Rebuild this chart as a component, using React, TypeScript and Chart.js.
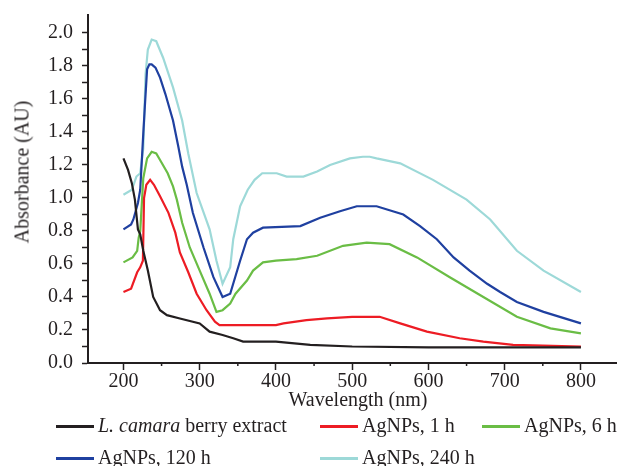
import React, { useEffect, useRef } from 'react';
import { Chart, registerables } from 'chart.js';
Chart.register(...registerables);

// ---- Data (wavelength in nm, absorbance in AU) ----
const extractWl = [200, 206, 211, 215, 219, 222, 226, 232, 239, 248, 257, 274, 300, 313, 330, 344, 357, 400, 445, 500, 600, 700, 800];
const extractAbs = [1.24, 1.17, 1.09, 0.99, 0.81, 0.78, 0.68, 0.56, 0.4, 0.32, 0.29, 0.27, 0.24, 0.19, 0.17, 0.15, 0.13, 0.13, 0.11, 0.1, 0.095, 0.095, 0.095];

const h1Wl = [200, 210, 218, 222, 225.5, 227, 230, 235, 240, 248, 259, 268, 274, 285, 296, 309, 320, 326, 350, 400, 410, 440, 467, 500, 536, 563, 598, 641, 672, 711, 750, 800];
const h1Abs = [0.43, 0.45, 0.55, 0.58, 0.62, 1.0, 1.08, 1.11, 1.08, 1.01, 0.91, 0.79, 0.67, 0.55, 0.42, 0.32, 0.25, 0.23, 0.23, 0.23, 0.24, 0.26, 0.27, 0.28, 0.28, 0.24, 0.19, 0.15, 0.13, 0.11, 0.105, 0.1];

const h6Wl = [200, 212, 218, 220, 222, 226, 231, 237, 243, 248, 258, 265, 270, 277, 287, 300, 313, 322, 330, 340, 347, 362, 370, 383, 400, 427, 454, 488, 519, 549, 585, 628, 672, 716, 760, 800];
const h6Abs = [0.61, 0.64, 0.68, 0.76, 0.8, 1.12, 1.24, 1.28, 1.27, 1.23, 1.15, 1.07, 0.99, 0.85, 0.7, 0.56, 0.42, 0.31, 0.32, 0.36, 0.42, 0.5, 0.56, 0.61, 0.62, 0.63, 0.65, 0.71, 0.73, 0.72, 0.64, 0.52, 0.4, 0.28, 0.21, 0.18];

const h120Wl = [200, 210, 213, 219, 222, 226, 228, 231, 234, 237, 242, 248, 255, 265, 272, 277, 283, 291, 305, 318, 330, 340, 353, 362, 370, 383, 432, 458, 484, 506, 532, 567, 589, 611, 633, 654, 677, 694, 716, 751, 800];
const h120Abs = [0.81, 0.84, 0.87, 0.97, 1.05, 1.39, 1.55, 1.78, 1.81, 1.81, 1.79, 1.73, 1.63, 1.47, 1.31, 1.19, 1.08, 0.91, 0.7, 0.52, 0.4, 0.42, 0.62, 0.75, 0.79, 0.82, 0.83, 0.88, 0.92, 0.95, 0.95, 0.9, 0.83, 0.75, 0.64, 0.56, 0.48, 0.43, 0.37, 0.31, 0.24];

const h240Wl = [200, 211, 217, 222, 226, 229, 232, 237, 243, 252, 265, 277, 285, 296, 313, 322, 330, 340, 344, 353, 363, 372, 382, 401, 414, 436, 454, 471, 497, 514, 523, 532, 563, 606, 650, 681, 716, 751, 800];
const h240Abs = [1.02, 1.05, 1.13, 1.15, 1.3, 1.75, 1.9, 1.96, 1.95, 1.85, 1.67, 1.47, 1.27, 1.03, 0.81, 0.62, 0.48, 0.58, 0.75, 0.95, 1.05, 1.11, 1.15, 1.15, 1.13, 1.13, 1.16, 1.2, 1.24, 1.25, 1.25, 1.24, 1.21, 1.11, 0.99, 0.87, 0.68, 0.56, 0.43];

const xMajorTicks = [200, 300, 400, 500, 600, 700, 800];
const xMinorTicks = [250, 350, 450, 550, 650, 750];
const yTicks = [0, 0.1, 0.2, 0.3, 0.4, 0.5, 0.6, 0.7, 0.8, 0.9, 1.0, 1.1, 1.2, 1.3, 1.4, 1.5, 1.6, 1.7, 1.8, 1.9, 2.0];
const yLabelled = [0, 0.2, 0.4, 0.6, 0.8, 1.0, 1.2, 1.4, 1.6, 1.8, 2.0];

const seriesNames = ['L. camara berry extract', 'AgNPs, 1 h', 'AgNPs, 6 h', 'AgNPs, 120 h', 'AgNPs, 240 h'];
const seriesColors = ['#231f20', '#ed1c24', '#6abd45', '#1f40a0', '#9dd9d8'];

const INK = '#231f20';
const FONT = '"Liberation Serif", "Times New Roman", Times, serif';

function pairs(xs: number[], ys: number[]) {
  return xs.map((x, i) => ({ x, y: ys[i] }));
}

const minorTickPlugin = {
  id: 'minorTicks',
  afterDraw(chart: any) {
    const ctx = chart.ctx;
    const xs = chart.scales.x;
    const yb = chart.chartArea.bottom;
    ctx.save();
    ctx.strokeStyle = INK;
    ctx.lineWidth = 1.5;
    xMinorTicks.forEach((v) => {
      const px = xs.getPixelForValue(v);
      ctx.beginPath();
      ctx.moveTo(px, yb);
      ctx.lineTo(px, yb + 3);
      ctx.stroke();
    });
    ctx.restore();
  },
};

export default function App() {
  const ref = useRef<HTMLCanvasElement | null>(null);

  useEffect(() => {
    document.body.style.margin = '0';
    if (!ref.current) return;
    const data = [
      pairs(extractWl, extractAbs),
      pairs(h1Wl, h1Abs),
      pairs(h6Wl, h6Abs),
      pairs(h120Wl, h120Abs),
      pairs(h240Wl, h240Abs),
    ];
    const chart = new Chart(ref.current, {
      type: 'line',
      data: {
        datasets: data.map((d, i) => ({
          label: seriesNames[i],
          data: d,
          borderColor: seriesColors[i],
          backgroundColor: seriesColors[i],
          borderWidth: 2.2,
          pointRadius: 0,
          tension: 0,
          fill: false,
        })),
      },
      options: {
        responsive: false,
        animation: false,
        layout: { padding: { top: 15, right: 3, left: 0, bottom: 0 } },
        plugins: { legend: { display: false }, tooltip: { enabled: false } },
        scales: {
          x: {
            type: 'linear',
            min: 153.5,
            max: 846,
            afterFit: (s: any) => {
              s.height = 103;
              s.paddingLeft = 0;
              s.paddingRight = 0;
            },
            afterBuildTicks: (s: any) => { s.ticks = xMajorTicks.map((v) => ({ value: v })); },
            grid: { display: true, drawOnChartArea: false, tickLength: 7, tickWidth: 1.5, tickColor: INK },
            border: { display: true, color: INK, width: 2 },
            ticks: {
              autoSkip: false,
              maxRotation: 0,
              padding: 0,
              color: INK,
              font: { family: FONT, size: 20 },
              callback: (v: any) => String(v),
            },
          },
          y: {
            type: 'linear',
            min: 0,
            max: 2.109,
            afterFit: (s: any) => {
              s.width = 88;
              s.paddingTop = 0;
              s.paddingBottom = 0;
            },
            afterBuildTicks: (s: any) => { s.ticks = yTicks.map((v) => ({ value: v })); },
            grid: { display: true, drawOnChartArea: false, tickLength: 6, tickWidth: 1.5, tickColor: INK },
            border: { display: true, color: INK, width: 2 },
            ticks: {
              autoSkip: false,
              padding: 9,
              color: INK,
              font: { family: FONT, size: 20 },
              callback: (v: any) => {
                const n = Number(v);
                return yLabelled.some((l) => Math.abs(l - n) < 1e-6) ? n.toFixed(1) : '';
              },
            },
          },
        },
      },
      plugins: [minorTickPlugin],
    } as any);
    return () => chart.destroy();
  }, []);

  const legendItem = (i: number, left: number, top: number) => (
    <div
      key={i}
      style={{
        position: 'absolute',
        left,
        top,
        height: 24,
        display: 'flex',
        alignItems: 'center',
        whiteSpace: 'nowrap',
        fontFamily: FONT,
        fontSize: 20,
        color: INK,
      }}
    >
      <span style={{ display: 'inline-block', width: 38, height: 3, background: seriesColors[i], marginRight: 4, marginTop: 3 }} />
      {i === 0 ? (
        <span>
          <i>L. camara</i> berry extract
        </span>
      ) : (
        <span>{seriesNames[i]}</span>
      )}
    </div>
  );

  return (
    <div style={{ position: 'relative', width: 619, height: 466, overflow: 'hidden', background: '#fff' }}>
      <canvas ref={ref} width={619} height={466} style={{ position: 'absolute', left: 0, top: 0, width: 619, height: 466 }} />
      <div
        style={{
          position: 'absolute',
          left: 22,
          top: 172,
          transform: 'translate(-50%, -50%) rotate(-90deg)',
          whiteSpace: 'nowrap',
          fontFamily: FONT,
          fontSize: 20,
          color: INK,
        }}
      >
        Absorbance (AU)
      </div>
      <div
        style={{
          position: 'absolute',
          left: 358,
          top: 387,
          transform: 'translateX(-50%)',
          whiteSpace: 'nowrap',
          fontFamily: FONT,
          fontSize: 20,
          lineHeight: '24px',
          color: INK,
        }}
      >
        Wavelength (nm)
      </div>
      {legendItem(0, 56, 413)}
      {legendItem(1, 320, 413)}
      {legendItem(2, 482, 413)}
      {legendItem(3, 56, 445)}
      {legendItem(4, 320, 445)}
    </div>
  );
}
